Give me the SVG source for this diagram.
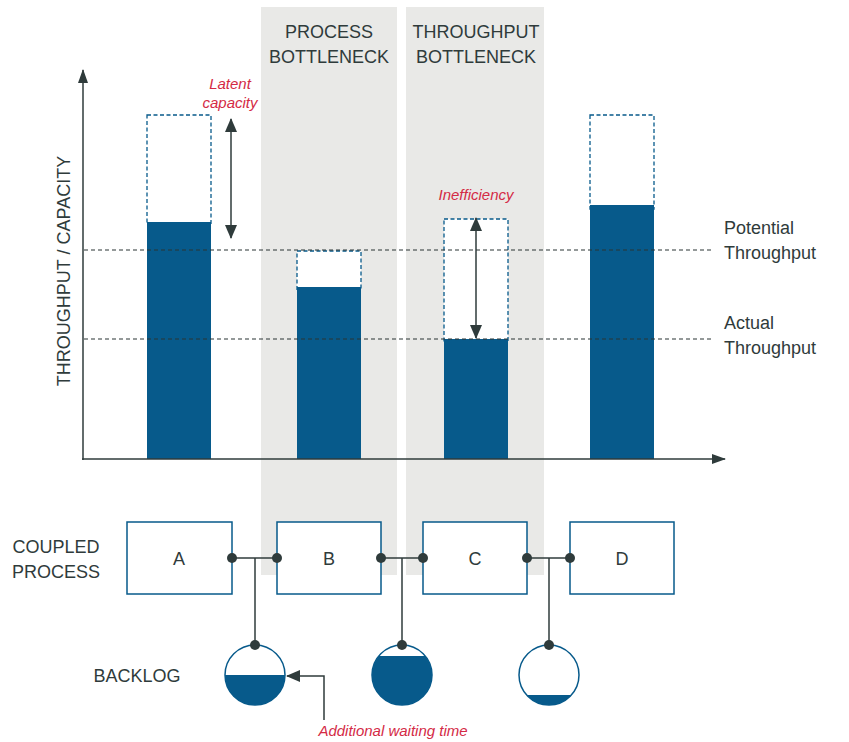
<svg xmlns="http://www.w3.org/2000/svg" width="849" height="742" viewBox="0 0 849 742">
<style>
text{font-family:"Source Sans Pro","Liberation Sans",Arial,sans-serif;fill:#2f3b3b;font-size:18px}
.lbl{text-anchor:middle}
.red{fill:#d42a45;font-style:italic;font-size:15px;text-anchor:middle}
.bar{fill:#075a8b}
.cap{fill:#fff;stroke:#075a8b;stroke-width:1.3;stroke-dasharray:4 2.5}
.dash{stroke:#2a3434;stroke-width:1.2;stroke-dasharray:4 3;fill:none}
.ln{stroke:#2f3b3b;stroke-width:1.5;fill:none}
.box{fill:#fff;stroke:#075a8b;stroke-width:1.5}
.dot{fill:#2f3b3b}
.tank{fill:#fff;stroke:#075a8b;stroke-width:1.5}
</style>
<defs>
<marker id="ah" viewBox="0 0 14 12" refX="13" refY="6" markerWidth="14" markerHeight="12" markerUnits="userSpaceOnUse" orient="auto-start-reverse"><path d="M0,0 L14,6 L0,12 z" fill="#2f3b3b"/></marker>
<marker id="axh" viewBox="0 0 14 10" refX="13" refY="5" markerWidth="14" markerHeight="10" markerUnits="userSpaceOnUse" orient="auto"><path d="M0,0 L14,5 L0,10 z" fill="#2f3b3b"/></marker>
<clipPath id="c1"><circle cx="255" cy="675" r="30"/></clipPath>
<clipPath id="c2"><circle cx="402" cy="675" r="30"/></clipPath>
<clipPath id="c3"><circle cx="549" cy="675" r="30"/></clipPath>
</defs>
<rect width="849" height="742" fill="#fff"/>
<g id="bands">
<rect x="261" y="7" width="136" height="568" fill="#e9e9e7"/>
<rect x="406" y="7" width="138" height="568" fill="#e9e9e7"/>
<text class="lbl" x="329" y="38">PROCESS</text>
<text class="lbl" x="329" y="63">BOTTLENECK</text>
<text class="lbl" x="476" y="38">THROUGHPUT</text>
<text class="lbl" x="476" y="63">BOTTLENECK</text>
</g>
<g id="chart">
<rect class="cap" x="147" y="115" width="64" height="110"/>
<rect class="bar" x="147" y="222" width="64" height="237"/>
<rect class="cap" x="297" y="251" width="64" height="40"/>
<rect class="bar" x="297" y="287" width="64" height="172"/>
<rect class="cap" x="444" y="219" width="64" height="124"/>
<rect class="bar" x="444" y="339" width="64" height="120"/>
<rect class="cap" x="590" y="115" width="64" height="94"/>
<rect class="bar" x="590" y="205" width="64" height="254"/>
<line class="dash" x1="84" y1="250" x2="714" y2="250"/>
<line class="dash" x1="84" y1="339" x2="714" y2="339"/>
<line class="ln" x1="83" y1="460" x2="83" y2="70" marker-end="url(#axh)"/>
<line class="ln" x1="82" y1="459" x2="725" y2="459" marker-end="url(#axh)"/>
<text class="lbl" transform="translate(70 271) rotate(-90)">THROUGHPUT / CAPACITY</text>
<text x="724" y="234">Potential</text>
<text x="724" y="259">Throughput</text>
<text x="724" y="329">Actual</text>
<text x="724" y="354">Throughput</text>
<line class="ln" x1="231" y1="119" x2="231" y2="238" marker-start="url(#ah)" marker-end="url(#ah)"/>
<text class="red" x="230" y="89">Latent</text>
<text class="red" x="230" y="108">capacity</text>
<line class="ln" x1="476" y1="218" x2="476" y2="338" marker-start="url(#ah)" marker-end="url(#ah)"/>
<text class="red" x="476" y="200">Inefficiency</text>
</g>
<text class="lbl" x="56" y="553">COUPLED</text>
<text class="lbl" x="56" y="578">PROCESS</text>
<text class="lbl" x="137" y="682">BACKLOG</text>
<g id="connectors">
<line class="ln" x1="232" y1="558" x2="277" y2="558"/>
<line class="ln" x1="255" y1="558" x2="255" y2="643"/>
<line class="ln" x1="381" y1="558" x2="423" y2="558"/>
<line class="ln" x1="402" y1="558" x2="402" y2="643"/>
<line class="ln" x1="527" y1="558" x2="570" y2="558"/>
<line class="ln" x1="549" y1="558" x2="549" y2="643"/>
<polyline class="ln" points="324,720 324,676 287,676" marker-end="url(#ah)"/>
<text class="red" x="393" y="736">Additional waiting time</text>
</g>
<g id="A"><rect class="box" x="127" y="522" width="105" height="72"/><text class="lbl" x="179" y="565">A</text></g>
<g id="B"><rect class="box" x="277" y="522" width="104" height="72"/><text class="lbl" x="329" y="565">B</text></g>
<g id="C"><rect class="box" x="423" y="522" width="104" height="72"/><text class="lbl" x="475" y="565">C</text></g>
<g id="D"><rect class="box" x="570" y="522" width="104" height="72"/><text class="lbl" x="622" y="565">D</text></g>
<g id="tank1"><circle class="tank" cx="255" cy="675" r="30"/><rect class="bar" x="220" y="675" width="70" height="40" clip-path="url(#c1)"/></g>
<g id="tank2"><circle class="tank" cx="402" cy="675" r="30"/><rect class="bar" x="367" y="656" width="70" height="60" clip-path="url(#c2)"/></g>
<g id="tank3"><circle class="tank" cx="549" cy="675" r="30"/><rect class="bar" x="514" y="695" width="70" height="20" clip-path="url(#c3)"/></g>
<g id="dots">
<circle class="dot" cx="232" cy="558" r="5"/><circle class="dot" cx="277" cy="558" r="5"/>
<circle class="dot" cx="381" cy="558" r="5"/><circle class="dot" cx="423" cy="558" r="5"/>
<circle class="dot" cx="527" cy="558" r="5"/><circle class="dot" cx="570" cy="558" r="5"/>
<circle class="dot" cx="255" cy="645" r="5"/><circle class="dot" cx="402" cy="645" r="5"/><circle class="dot" cx="549" cy="645" r="5"/>
</g>
</svg>
